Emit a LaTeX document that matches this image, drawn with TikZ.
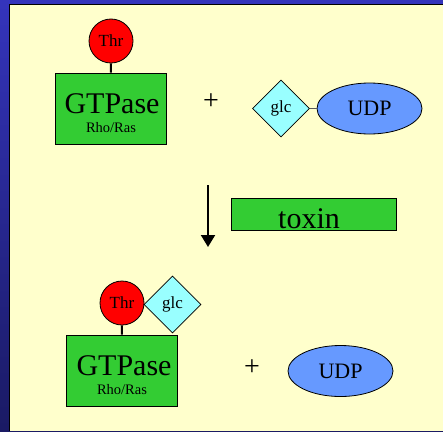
\documentclass[tikz,border=0pt]{standalone}
\usepackage{fontspec}
\setmainfont{Liberation Serif}
\usetikzlibrary{shapes.geometric}
\usetikzlibrary{arrows.meta}

\definecolor{bluetop}{HTML}{3434BC}
\definecolor{bluebot}{HTML}{1A1A64}
\definecolor{panelyellow}{HTML}{FFFFCC}
\definecolor{boxgreen}{HTML}{33CC33}
\definecolor{glccyan}{HTML}{99FFFF}
\definecolor{udpblue}{HTML}{6699FF}

\begin{document}
\begin{tikzpicture}[x=1pt, y=-1pt,
  gtpbox/.style={draw=black, line width=0.8pt, fill=boxgreen, minimum width=111pt, minimum height=71pt, inner sep=0pt},
  thrball/.style={circle, draw=black, line width=0.8pt, fill=red, minimum size=44pt, inner sep=0pt, font=\fontsize{17}{17}\selectfont},
  glcdia/.style={diamond, draw=black, line width=0.8pt, fill=glccyan, minimum size=57pt, inner sep=0pt, font=\fontsize{17}{17}\selectfont},
  udpoval/.style={ellipse, draw=black, line width=0.8pt, fill=udpblue, minimum width=105pt, minimum height=51pt, inner sep=0pt, font=\fontsize{22}{22}\selectfont},
  bigtxt/.style={anchor=base, inner sep=0pt, font=\fontsize{30}{30}\selectfont},
  smalltxt/.style={anchor=base, inner sep=0pt, font=\fontsize{14.5}{14.5}\selectfont},
  plustxt/.style={inner sep=0pt, font=\fontsize{28}{28}\selectfont},
  stick/.style={line width=2pt, draw=black},
  bond/.style={line width=1.5pt, draw=black!65}]
% Background
\useasboundingbox (0,0) rectangle (443,431);
\shade[top color=bluetop, bottom color=bluebot] (0,0) rectangle (443,431);
\fill[panelyellow] (9,4) rectangle (443,431);
\draw[black, line width=1pt] (9,431) -- (9,4) -- (443,4);
% Top GTPase
\node[gtpbox] (gtp1) at (110.5,108.5) {};
\node[bigtxt] (gtpname1) at (112,113) {GTPase};
\node[smalltxt] (gtpsub1) at (111,132) {Rho/Ras};
\node[thrball] (thr1) at (111,41) {Thr};
\draw[stick] (thr1) -- (gtp1);
% Plus
\node[plustxt] (plus1) at (211,102) {+};
% UDP-glucose
\node[glcdia] (glc1) at (281,108.5) {glc};
\node[udpoval] (udp1) at (369.5,108.5) {UDP};
\draw[bond] (glc1) -- (udp1);
% Reaction arrow
\coordinate (arrtop) at (208,185);
\coordinate (arrtip) at (208,247);
\draw[line width=2pt, -{Triangle[length=12pt, width=14pt]}] (arrtop) -- (arrtip);
% Toxin
\node[draw=black, line width=0.8pt, fill=boxgreen, minimum width=165pt, minimum height=32pt, inner sep=0pt] (toxbox) at (313.5,214) {};
\node[bigtxt] (toxlbl) at (309,228) {toxin};
% Bottom GTPase
\node[gtpbox] (gtp2) at (121.5,370.5) {};
\node[bigtxt] (gtpname2) at (124,375) {GTPase};
\node[smalltxt] (gtpsub2) at (122,394) {Rho/Ras};
\node[thrball] (thr2) at (122,303) {Thr};
\node[glcdia] (glc2) at (172.5,304.5) {glc};
\draw[stick] (thr2) -- (gtp2);
% Plus
\node[plustxt] (plus2) at (252,368) {+};
% Free UDP
\node[udpoval] (udp2) at (340.5,371) {UDP};
\end{tikzpicture}
\end{document}
